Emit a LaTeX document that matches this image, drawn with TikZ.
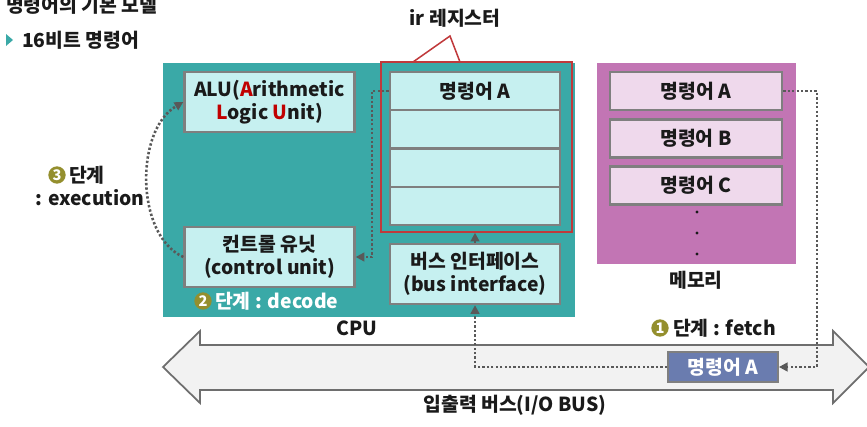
\documentclass[tikz,border=0pt]{standalone}
\usepackage{fontspec}
\setmainfont{Noto Sans CJK KR}
\usepackage{xcolor}
\usetikzlibrary{arrows.meta,positioning}
\definecolor{ink}{HTML}{1A1A1A}
\definecolor{cpuTeal}{HTML}{3AA9A7}
\definecolor{cellCyan}{HTML}{C6F0F0}
\definecolor{edge}{HTML}{7F7F7F}
\definecolor{irRed}{HTML}{C0393B}
\definecolor{memPink}{HTML}{C275B4}
\definecolor{memCell}{HTML}{EFD9EC}
\definecolor{busGray}{HTML}{F2F2F2}
\definecolor{busEdge}{HTML}{6E6E6E}
\definecolor{busBlue}{HTML}{6A7CAF}
\definecolor{olive}{HTML}{948F2E}
\definecolor{wire}{HTML}{595959}
\definecolor{accent}{HTML}{C00000}
\newcommand{\hl}[1]{\textcolor{accent}{#1}}

\begin{document}
\begin{tikzpicture}[
  x=0.03cm, y=-0.03cm,
  every node/.style={font=\bfseries\fontsize{16.5}{19.5}\selectfont, text=ink},
  box/.style={draw=edge, line width=2pt, fill=cellCyan, minimum width=5.1cm, minimum height=1.8cm, align=center, inner sep=0pt},
  reg/.style={draw=edge, line width=2pt, fill=cellCyan, minimum width=5.1cm, minimum height=1.15cm, inner sep=0pt},
  mem/.style={draw=edge, line width=2pt, fill=memCell, minimum width=5.16cm, minimum height=1.15cm, inner sep=0pt},
  circnum/.style={circle, fill=olive, text=white, inner sep=0pt, minimum size=0.52cm, font=\bfseries\fontsize{12.5}{12.5}\selectfont},
  arrow/.style={-{Triangle[length=2.6mm,width=2.6mm]}, line width=2.2pt, draw=wire, dash pattern=on 2pt off 1.8pt}
]
\useasboundingbox (0,0) rectangle (867,427);

% titles
\node[anchor=west] (title) at (2,5) {명령어의 기본 모델};
\fill[cpuTeal] (6,34) -- (13,40) -- (6,46) -- cycle;
\node[anchor=west] (subtitle) at (18,40) {16비트 명령어};

% CPU
\node[fill=cpuTeal, minimum width=12.36cm, minimum height=7.62cm] (cpu) at (369,190) {};
\node[box] (alu) at (269.5,102) {ALU(\hl{A}rithmetic\\\hl{L}ogic \hl{U}nit)};
\node[box] (cu) at (269.5,257) {컨트롤 유닛\\(control unit)};
\node[reg] (regA) at (475,91) {명령어 A};
\node[reg] (regB) at (475,129.4) {};
\node[reg] (regC) at (475,167.7) {};
\node[reg] (regD) at (475,206) {};
\node[draw=irRed, line width=1.3pt, minimum width=5.73cm, minimum height=5.1cm, inner sep=0pt] (ir) at (476.5,147) {};
\node[box] (busif) at (475,274) {버스 인터페이스\\(bus interface)};
\node[circnum] (s2) at (203,301) {2};
\node[anchor=west, text=white] (decode) at (211,301) {단계 : decode};
\node (cpulbl) at (357,328) {CPU};

% ir callout
\node (irlbl) at (455,18) {ir 레지스터};
\coordinate (peak) at (450,36);
\draw[irRed, line width=1.3pt] (413,62) -- (peak) -- (460,62);

% memory
\node[fill=memPink, minimum width=5.97cm, minimum height=6.03cm] (memory) at (696.5,163.5) {};
\node[mem] (memA) at (696,91) {명령어 A};
\node[mem] (memB) at (696,138.5) {명령어 B};
\node[mem] (memC) at (696,185.5) {명령어 C};
\foreach \y in {212,233,254}
  \fill[ink] (697,\y) circle (1.3pt);
\node (memlbl) at (696,280) {메모리};

% bus
\draw[fill=busGray, draw=busEdge, line width=1.5pt]
  (163,367) -- (200,331) -- (200,345) -- (833,345) -- (833,331) -- (869,367)
  -- (833,403) -- (833,390) -- (200,390) -- (200,403) -- cycle;
\node (buslbl) at (515,405) {입출력 버스(I/O BUS)};
\node[fill=busBlue, draw=edge, line width=1.5pt, text=white, minimum width=3.3cm, minimum height=0.9cm, inner sep=0pt] (busA) at (723,367) {명령어 A};
\node[circnum] (s1) at (660,328) {1};
\node[anchor=west] (fetch) at (669,328) {단계 : fetch};

% execution label
\node[circnum] (s3) at (57,175) {3};
\node[anchor=west] (exstep) at (65,175) {단계};
\node (exlbl) at (90,198) {: execution};

% flows
\coordinate (memrail) at (817,0);
\coordinate (ctrlrail) at (372,0);
\draw[arrow] (memA.east) -- (memA.east -| memrail) |- (busA.east);
\draw[arrow] (busA.west) -| (busif.south);
\draw[arrow] (busif.north) -- (busif.north |- ir.south);
\draw[arrow] (regA.west) -- (regA.west -| ctrlrail) |- (cu.east);
\draw[arrow] (cu.west) .. controls (135,235) and (135,130) .. (alu.west);
\end{tikzpicture}
\end{document}
